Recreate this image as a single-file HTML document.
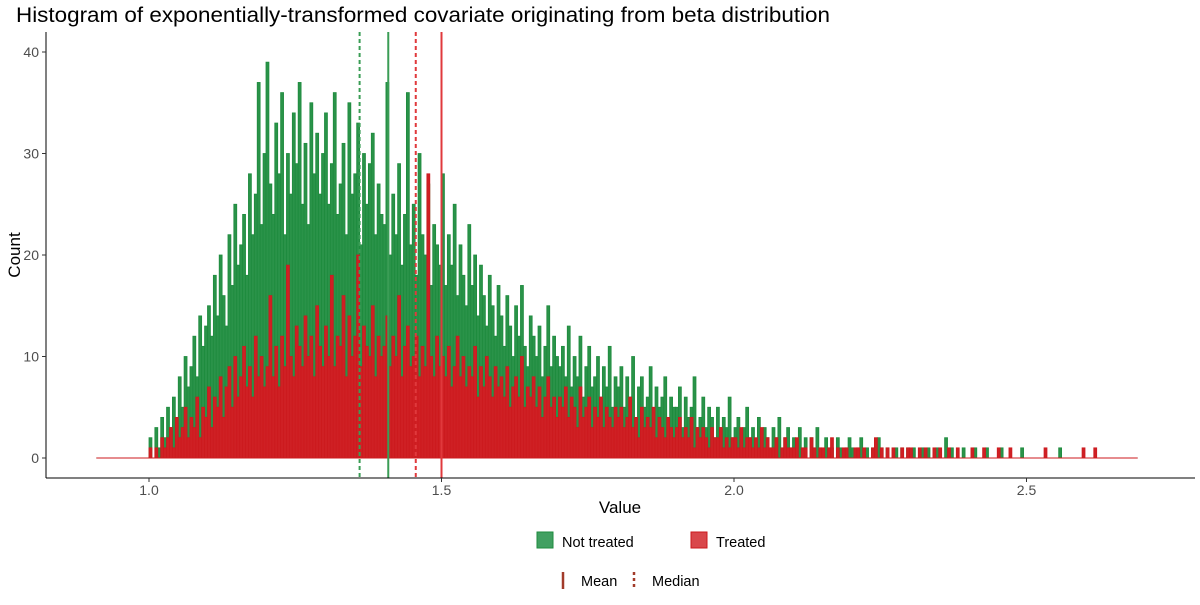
<!DOCTYPE html>
<html><head><meta charset="utf-8"><style>
body{margin:0;background:#fff;font-family:"Liberation Sans",sans-serif}
svg text{font-family:"Liberation Sans",sans-serif}
</style></head><body>
<svg id="chart" width="1200" height="600" xmlns="http://www.w3.org/2000/svg">
<rect width="1200" height="600" fill="#fff"/>
<text x="16" y="22" font-size="21" fill="#000" textLength="814" lengthAdjust="spacingAndGlyphs">Histogram of exponentially-transformed covariate originating from beta distribution</text>
<g id="bars"></g>
<g id="axes"></g>
<g>
<rect x="537" y="532" width="16" height="16" fill="#41a061" stroke="#1e8b3e"/>
<text x="562" y="547" font-size="14.5">Not treated</text>
<rect x="691" y="532" width="16" height="16" fill="#d9474b" stroke="#cc1a1e"/>
<text x="716" y="547" font-size="14.5">Treated</text>
</g>
<g>
<line x1="563" y1="572" x2="563" y2="589" stroke="#a23b2a" stroke-width="2.5"/>
<text x="581" y="586" font-size="14.5">Mean</text>
<line x1="634" y1="572" x2="634" y2="589" stroke="#a23b2a" stroke-width="2.5" stroke-dasharray="3,3"/>
<text x="652" y="586" font-size="14.5">Median</text>
</g>
</svg>
<script>
const binStart = 1.0;
const binWidth = 0.005;
const notTreated = [
2,0,3,1,4,2,5,3,6,4,8,5,10,7,9,12,8,14,11,13,
15,12,18,14,20,16,13,22,17,25,19,21,24,18,28,22,26,37,23,30,
39,27,24,33,28,36,22,30,26,34,29,37,25,31,23,35,28,32,26,30,
34,25,29,36,24,27,31,22,35,26,28,33,21,30,25,29,32,22,27,24,
23,37,20,26,22,29,19,24,36,21,25,18,30,22,20,27,17,23,21,19,
28,17,22,19,25,16,21,18,15,23,17,20,14,19,16,13,18,15,12,17,
14,11,16,13,10,15,12,17,11,9,14,12,10,13,8,11,15,9,12,10,
9,11,8,13,7,10,8,12,6,9,11,7,8,10,6,9,7,11,5,8,
7,9,5,8,6,10,4,7,8,5,6,9,4,7,5,6,8,4,6,5,
5,7,3,6,4,5,8,3,4,6,3,5,4,2,5,3,4,3,6,2,
3,4,2,3,5,2,3,1,4,2,3,2,1,3,2,4,1,2,3,1,
2,1,3,1,2,0,2,1,3,1,0,2,1,1,0,2,1,0,1,2,
1,0,1,2,0,1,0,1,0,2,1,0,1,0,0,1,0,1,0,1,
0,1,0,0,1,0,1,0,0,1,0,0,2,0,1,0,0,0,1,0,
0,0,1,0,0,0,1,0,0,0,0,1,0,0,0,0,0,0,1,0,
0,0,0,0,0,0,0,0,0,0,0,1,0,0,0,0,0,0,0,0];
const treated = [
1,0,1,0,2,1,2,3,1,4,2,3,5,2,4,3,6,2,5,4,
7,3,6,5,8,4,7,9,5,10,6,8,11,7,9,6,12,8,10,7,
9,16,8,11,7,12,9,19,10,8,13,11,9,14,10,12,8,15,11,9,
13,10,18,9,12,11,16,8,14,10,12,20,9,13,11,10,15,8,12,10,
11,14,9,12,10,16,8,11,13,9,10,12,8,11,9,28,10,8,12,9,
10,8,11,7,9,12,8,10,7,9,8,11,6,9,7,10,8,6,9,7,
8,6,9,5,7,8,6,10,5,7,6,8,5,7,4,6,8,5,6,4,
6,5,7,4,6,5,3,7,4,5,6,3,5,4,6,3,5,4,3,5,
4,5,3,4,6,3,4,2,5,3,4,3,5,2,4,3,2,4,3,2,
3,4,2,3,2,4,1,3,2,3,2,1,3,2,2,3,1,2,1,2,
2,1,3,1,2,2,1,2,1,3,1,2,1,1,2,0,1,2,1,1,
1,2,0,1,1,0,2,1,0,1,1,0,1,2,0,1,0,1,1,0,
0,1,1,0,1,0,0,1,2,0,1,0,1,0,1,0,0,1,0,1,
1,0,0,1,0,1,0,0,1,0,1,0,0,1,0,0,1,0,0,0,
0,1,0,0,0,1,0,0,0,0,1,0,0,0,1,0,0,0,0,0,
0,0,0,0,0,0,1,0,0,0,0,0,0,0,0,0,0,0,0,1,
0,0,0,1];
const xTicks = [1.0, 1.5, 2.0, 2.5];
const xTickLabels = ["1.0","1.5","2.0","2.5"];
const yTicks = [0, 10, 20, 30, 40];
const statLines = [
 {group:"not-treated", kind:"mean", value:1.409},
 {group:"not-treated", kind:"median", value:1.36},
 {group:"treated", kind:"mean", value:1.50},
 {group:"treated", kind:"median", value:1.456}];
const xRange = [0.91, 2.69];

const NS="http://www.w3.org/2000/svg";
const px = v => 149 + (v-1.0)*585;
const py = v => 458 - v*10.15;
const plotTop=32, plotBottom=478, plotLeft=46, plotRight=1195;
function mk(tag, attrs, parent){const e=document.createElementNS(NS,tag);for(const k in attrs)e.setAttribute(k,attrs[k]);parent.appendChild(e);return e;}
const bars=document.getElementById('bars'), axes=document.getElementById('axes');
let b1=mk('line',{x1:px(xRange[0]),x2:px(xRange[1]),y1:py(0),y2:py(0),stroke:'#1e8b3e','stroke-width':1},bars);


function drawSeries(arr, fill, stroke, name){
  arr.forEach((v,i)=>{
    if(v<=0) return;
    const x0=px(binStart+i*binWidth), x1=px(binStart+(i+1)*binWidth);
    const r=mk('rect',{x:x0,y:py(v),width:x1-x0,height:py(0)-py(v),fill:fill,stroke:stroke,'stroke-width':0.8},bars);
    
    
  });
}
drawSeries(notTreated,'#2a9349','#1e8b3e','not-treated');
drawSeries(treated,'#cf2024','#cc1a1e','treated');
let b2=mk('line',{x1:px(xRange[0]),x2:px(xRange[1]),y1:py(0),y2:py(0),stroke:'#cc1a1e','stroke-width':1},bars);


statLines.forEach(s=>{
  const col = s.group==='treated' ? '#e0393c' : '#3a9d55';
  const a={x1:px(s.value),x2:px(s.value),y1:plotTop,y2:plotBottom,stroke:col,'stroke-width':2};
  if(s.kind==='median') a['stroke-dasharray']='4,3';
  const l=mk('line',a,bars);
  
  
});
let ya=mk('line',{x1:plotLeft,x2:plotLeft,y1:plotTop,y2:plotBottom,stroke:'#000','stroke-width':1},axes);


let xa=mk('line',{x1:plotLeft,x2:plotRight,y1:plotBottom,y2:plotBottom,stroke:'#000','stroke-width':1},axes);


xTicks.forEach((t,i)=>{
  let tk=mk('line',{x1:px(t),x2:px(t),y1:plotBottom,y2:plotBottom+4,stroke:'#333'},axes);
  
  
  let tx=mk('text',{x:px(t),y:plotBottom+17,'font-size':14,fill:'#4d4d4d','text-anchor':'middle'},axes);
  tx.textContent=xTickLabels[i];
  
  
});
yTicks.forEach(t=>{
  let tk=mk('line',{x1:plotLeft-4,x2:plotLeft,y1:py(t),y2:py(t),stroke:'#333'},axes);
  
  
  let tx=mk('text',{x:plotLeft-7,y:py(t)+5,'font-size':14,fill:'#4d4d4d','text-anchor':'end'},axes);
  tx.textContent=String(t);
  
  
});
let xt=mk('text',{x:620,y:513,'font-size':17,'text-anchor':'middle'},axes);
xt.textContent='Value';


let yt=mk('text',{x:0,y:0,'font-size':17,'text-anchor':'middle',transform:'translate(20,255) rotate(-90)'},axes);
yt.textContent='Count';


</script>
</body></html>
